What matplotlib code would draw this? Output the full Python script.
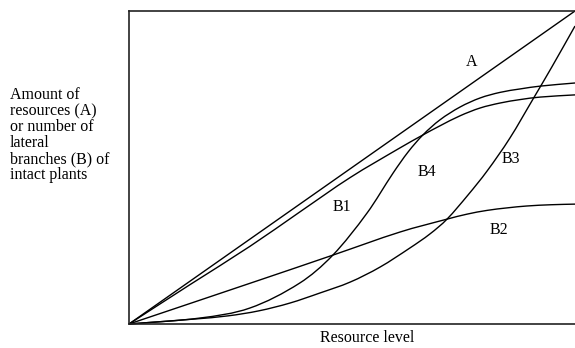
import matplotlib
matplotlib.use("Agg")
import matplotlib.pyplot as plt
from matplotlib.path import Path
from matplotlib.patches import PathPatch
import numpy as np

plt.rcParams["font.family"] = ["Liberation Serif", "DejaVu Serif"]

# resource level (0-1) and curve heights read per curve
a_x = [0.0, 1.0]
a_y = [0.0, 1.0]

b1_x = [0, 0.137, 0.271, 0.383, 0.496, 0.608, 0.659, 0.697, 0.742, 0.787, 0.832, 0.877, 0.922, 1.0]
b1_y = [0, 0.126, 0.248, 0.358, 0.468, 0.563, 0.604, 0.633, 0.665, 0.690, 0.706, 0.717, 0.725, 0.732]

b2_x = [0, 0.294, 0.457, 0.608, 0.713, 0.758, 0.803, 0.848, 0.892, 0.946, 1.0]
b2_y = [0, 0.141, 0.220, 0.294, 0.335, 0.351, 0.363, 0.371, 0.377, 0.381, 0.383]

b3_x = [0, 0.148, 0.222, 0.291, 0.361, 0.428, 0.496, 0.563, 0.630, 0.675, 0.713, 0.760,
        0.803, 0.854, 0.906, 0.948, 1.0]
b3_y = [0, 0.016, 0.026, 0.042, 0.067, 0.099, 0.134, 0.182, 0.243, 0.288, 0.335, 0.412,
        0.489, 0.594, 0.719, 0.821, 0.952]

b4_x = [0, 0.159, 0.271, 0.383, 0.457, 0.534, 0.592, 0.626, 0.659, 0.697, 0.742, 0.787,
        0.832, 0.877, 0.922, 1.0]
b4_y = [0, 0.019, 0.051, 0.131, 0.220, 0.355, 0.482, 0.550, 0.604, 0.652, 0.693, 0.722,
        0.740, 0.751, 0.760, 0.770]

curve_labels = ["A", "B1", "B2", "B3", "B4"]
label_pos = [(0.769, 0.837), (0.478, 0.374), (0.830, 0.300), (0.857, 0.527), (0.668, 0.486)]


def smooth_path(xs, ys):
    """Cubic Bezier path through the given points (Hermite slopes from neighbours)."""
    x = np.asarray(xs, float)
    y = np.asarray(ys, float)
    if len(x) < 3:
        return Path(np.column_stack([x, y]))
    m = np.empty_like(y)
    m[1:-1] = (y[2:] - y[:-2]) / (x[2:] - x[:-2])
    m[0] = (y[1] - y[0]) / (x[1] - x[0])
    m[-1] = (y[-1] - y[-2]) / (x[-1] - x[-2])
    verts = [(x[0], y[0])]
    codes = [Path.MOVETO]
    for i in range(len(x) - 1):
        h = (x[i + 1] - x[i]) / 3
        verts += [(x[i] + h, y[i] + h * m[i]),
                  (x[i + 1] - h, y[i + 1] - h * m[i + 1]),
                  (x[i + 1], y[i + 1])]
        codes += [Path.CURVE4] * 3
    return Path(verts, codes)


fig = plt.figure(figsize=(5.75, 3.48), dpi=100)
ax = fig.add_axes([129 / 575, 24 / 348, 446 / 575, 313 / 348])

for xs, ys in [(a_x, a_y), (b1_x, b1_y), (b2_x, b2_y), (b3_x, b3_y), (b4_x, b4_y)]:
    ax.add_patch(PathPatch(smooth_path(xs, ys), fill=False, edgecolor="black",
                           lw=1.0, clip_on=False))

for name, (lx, ly) in zip(curve_labels, label_pos):
    ax.text(lx, ly, name, fontsize=11.5, ha="center", va="center")

ax.set_xlim(0, 1)
ax.set_ylim(0, 1)
ax.set_xticks([])
ax.set_yticks([])
ax.spines["right"].set_visible(False)
for side in ["left", "top", "bottom"]:
    ax.spines[side].set_linewidth(1.2)
    ax.spines[side].set_color("#222222")

fig.text(367.5 / 575, 1 - 338 / 348, "Resource level", fontsize=11.5,
         ha="center", va="center")
fig.text(10 / 575, 1 - 135 / 348,
         "Amount of\nresources (A)\nor number of\nlateral\nbranches (B) of\nintact plants",
         fontsize=11.5, ha="left", va="center", linespacing=1.0)

fig.savefig("out.png", dpi=100)
